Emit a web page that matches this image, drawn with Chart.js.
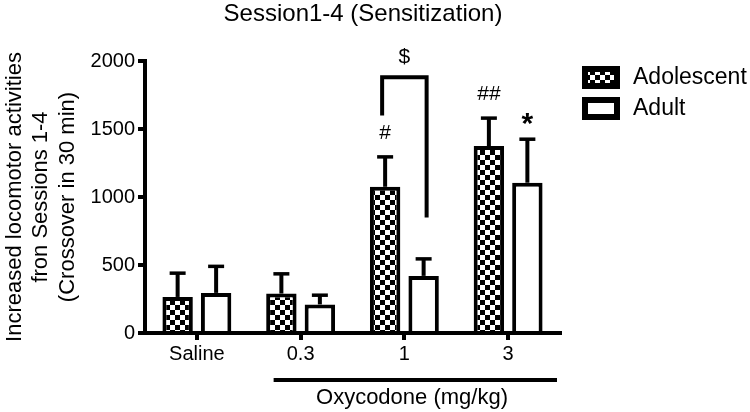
<!DOCTYPE html>
<html>
<head>
<meta charset="utf-8">
<script src="https://cdn.jsdelivr.net/npm/chart.js@4/dist/chart.umd.min.js"></script>
<style>
html, body { margin: 0; padding: 0; background: #fff; }
</style>
</head>
<body>
<canvas id="chart" width="750" height="412"></canvas>
<script>
const doses = ['Saline', '0.3', '1', '3'];
const adolescent = [265, 290, 1075, 1375];
const adolescentErr = [175, 145, 220, 205];
const adult = [295, 210, 420, 1105];
const adultErr = [195, 68, 125, 320];
const yTicks = [0, 500, 1000, 1500, 2000];
// significance marks: [dataset, dose index, text]
const marks = [[0, 2, '#'], [0, 3, '##'], [1, 3, '*']];
// $ bracket at 1 mg/kg: left foot, top, right foot
const bracket = [1600, 1880, 850];

const FONT = "'Liberation Sans', Arial, sans-serif";

function checker() {
    const c = document.createElement('canvas');
    c.width = 10; c.height = 10;
    const g = c.getContext('2d');
    g.fillStyle = '#fff';
    g.fillRect(0, 0, 10, 10);
    g.fillStyle = '#000';
    g.fillRect(0, 0, 5, 5);
    g.fillRect(5, 5, 5, 5);
    return g.createPattern(c, 'repeat');
}
const pattern = checker();

var errBars = {
    id: 'errBars',
    afterDatasetsDraw(chart) {
        const ctx = chart.ctx, y = chart.scales.y;
        [adolescentErr, adultErr].forEach(function(err, di) {
            const vals = chart.data.datasets[di].data;
            chart.getDatasetMeta(di).data.forEach(function(bar, i) {
                const top = y.getPixelForValue(vals[i] + err[i]);
                ctx.save();
                ctx.strokeStyle = '#000';
                ctx.lineWidth = 4;
                ctx.beginPath();
                ctx.moveTo(bar.x, bar.y);
                ctx.lineTo(bar.x, top);
                ctx.stroke();
                ctx.lineWidth = 3.5;
                ctx.beginPath();
                ctx.moveTo(bar.x - 8, top);
                ctx.lineTo(bar.x + 8, top);
                ctx.stroke();
                ctx.restore();
            });
        });
    }
};

var extras = {
    id: 'extras',
    afterDraw(chart) {
        const ctx = chart.ctx, x = chart.scales.x, y = chart.scales.y;
        const area = chart.chartArea;
        const errs = [adolescentErr, adultErr];
        ctx.save();
        ctx.fillStyle = '#000';
        ctx.strokeStyle = '#000';

        // title
        ctx.textAlign = 'center';
        ctx.textBaseline = 'middle';
        ctx.font = '24px ' + FONT;
        ctx.fillText('Session1-4 (Sensitization)', 363, 14);

        // significance marks
        marks.forEach(function(m) {
            const bar = chart.getDatasetMeta(m[0]).data[m[1]];
            const v = chart.data.datasets[m[0]].data[m[1]] + errs[m[0]][m[1]];
            const py = y.getPixelForValue(v);
            if (m[2] === '*') {
                ctx.font = 'bold 30px ' + FONT;
                ctx.fillText(m[2], bar.x, py - 14);
            } else {
                ctx.font = '21px ' + FONT;
                ctx.fillText(m[2], bar.x, py - 24);
            }
        });

        // $ bracket
        const b0 = chart.getDatasetMeta(0).data[2], b1 = chart.getDatasetMeta(1).data[2];
        const lx = b0.x - 3, rx = b1.x + 3;
        ctx.lineWidth = 4;
        ctx.beginPath();
        ctx.moveTo(lx, y.getPixelForValue(bracket[0]));
        ctx.lineTo(lx, y.getPixelForValue(bracket[1]));
        ctx.lineTo(rx, y.getPixelForValue(bracket[1]));
        ctx.lineTo(rx, y.getPixelForValue(bracket[2]));
        ctx.stroke();
        ctx.font = '21px ' + FONT;
        ctx.fillText('$', (lx + rx) / 2, y.getPixelForValue(bracket[1]) - 20);

        // oxycodone group line
        const gx0 = x.getPixelForValue(1) - 27;
        ctx.beginPath();
        ctx.moveTo(gx0, 380);
        ctx.lineTo(area.right - 3, 380);
        ctx.stroke();
        ctx.font = '22px ' + FONT;
        ctx.fillText('Oxycodone (mg/kg)', 412, 398);

        // legend
        const lgx = area.right + 22;
        [[pattern, 'Adolescent', 66], ['#fff', 'Adult', 97]].forEach(function(it) {
            ctx.fillStyle = it[0];
            ctx.fillRect(lgx, it[2], 38, 23);
            ctx.lineWidth = 6;
            ctx.strokeRect(lgx + 3, it[2] + 3, 32, 17);
            ctx.fillStyle = '#000';
            ctx.textAlign = 'left';
            ctx.font = '23px ' + FONT;
            ctx.fillText(it[1], lgx + 51, it[2] + 12);
        });
        ctx.restore();
    }
};

const ctx = document.getElementById('chart').getContext('2d');
var graphData = {
    type: 'bar',
    data: {
        labels: doses,
        datasets: [{
            label: 'Adolescent',
            data: adolescent,
            backgroundColor: pattern,
            borderColor: '#000',
            borderWidth: 4,
            borderSkipped: 'start'
        }, {
            label: 'Adult',
            data: adult,
            backgroundColor: '#fff',
            borderColor: '#000',
            borderWidth: 4,
            borderSkipped: 'start'
        }]
    },
    options: {
        responsive: false,
        animation: false,
        layout: { padding: { top: 61, right: 190, bottom: 0, left: 0 } },
        categoryPercentage: 0.742,
        barPercentage: 0.79,
        plugins: { legend: { display: false }, tooltip: { enabled: false } },
        scales: {
            x: {
                grid: { display: true, offset: false, drawOnChartArea: false, drawTicks: true, tickLength: 7, lineWidth: 4, color: '#000' },
                border: { display: true, width: 4, color: '#000' },
                ticks: { color: '#000', font: { family: FONT, size: 20 }, padding: 2, maxRotation: 0 },
                afterFit(s) { s.height = 79; }
            },
            y: {
                min: 0,
                max: 2000,
                afterBuildTicks(s) { s.ticks = yTicks.map(v => ({ value: v })); },
                grid: { display: true, drawOnChartArea: false, drawTicks: true, tickLength: 7, lineWidth: 4, color: '#000' },
                border: { display: true, width: 4, color: '#000' },
                ticks: {
                    color: '#000',
                    font: { family: FONT, size: 20 },
                    padding: 3,
                    callback: function(v) { return String(v); }
                },
                title: {
                    display: true,
                    text: ['Increased locomotor activities', 'fron Sessions 1-4', '(Crossover in 30 min)'],
                    color: '#000',
                    font: { family: FONT, size: 22, lineHeight: 1.19 },
                    padding: { top: 2, bottom: 0 }
                },
                afterFit(s) { s.width = 145; }
            }
        }
    },
    plugins: [errBars, extras]
};

const chart = new Chart(ctx, graphData);
</script>
</body>
</html>
